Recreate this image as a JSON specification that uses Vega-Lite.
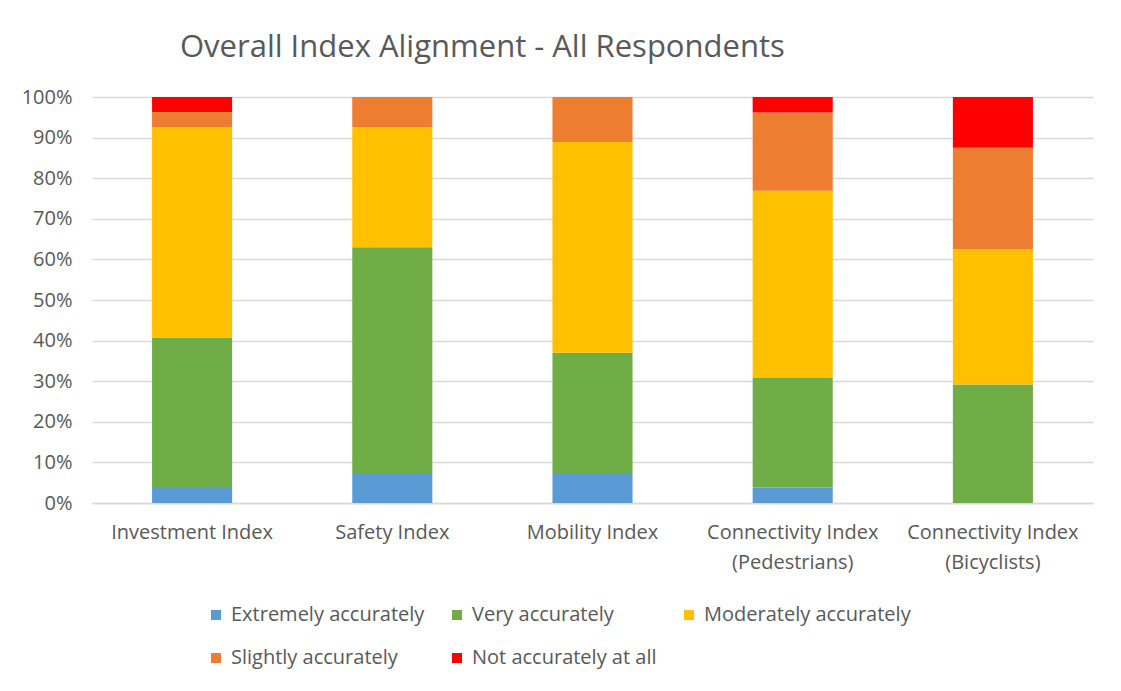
{
  "$schema": "https://vega.github.io/schema/vega-lite/v6.json",
  "width": 1001,
  "height": 406,
  "autosize": {"type": "none"},
  "padding": {"left": 92, "top": 97, "right": 28, "bottom": 188},
  "background": "white",
  "title": {
    "text": "Overall Index Alignment - All Respondents",
    "anchor": "start",
    "frame": "group",
    "dx": 88,
    "offset": 23,
    "font": "Open Sans",
    "fontSize": 31,
    "fontWeight": "normal",
    "color": "#595959"
  },
  "data": {
    "values": [
      {"index": "Investment Index", "rating": "Extremely accurately", "o": 1, "count": 1},
      {"index": "Investment Index", "rating": "Very accurately", "o": 2, "count": 10},
      {"index": "Investment Index", "rating": "Moderately accurately", "o": 3, "count": 14},
      {"index": "Investment Index", "rating": "Slightly accurately", "o": 4, "count": 1},
      {"index": "Investment Index", "rating": "Not accurately at all", "o": 5, "count": 1},
      {"index": "Safety Index", "rating": "Extremely accurately", "o": 1, "count": 2},
      {"index": "Safety Index", "rating": "Very accurately", "o": 2, "count": 15},
      {"index": "Safety Index", "rating": "Moderately accurately", "o": 3, "count": 8},
      {"index": "Safety Index", "rating": "Slightly accurately", "o": 4, "count": 2},
      {"index": "Safety Index", "rating": "Not accurately at all", "o": 5, "count": 0},
      {"index": "Mobility Index", "rating": "Extremely accurately", "o": 1, "count": 2},
      {"index": "Mobility Index", "rating": "Very accurately", "o": 2, "count": 8},
      {"index": "Mobility Index", "rating": "Moderately accurately", "o": 3, "count": 14},
      {"index": "Mobility Index", "rating": "Slightly accurately", "o": 4, "count": 3},
      {"index": "Mobility Index", "rating": "Not accurately at all", "o": 5, "count": 0},
      {"index": "Connectivity Index|(Pedestrians)", "rating": "Extremely accurately", "o": 1, "count": 1},
      {"index": "Connectivity Index|(Pedestrians)", "rating": "Very accurately", "o": 2, "count": 7},
      {"index": "Connectivity Index|(Pedestrians)", "rating": "Moderately accurately", "o": 3, "count": 12},
      {"index": "Connectivity Index|(Pedestrians)", "rating": "Slightly accurately", "o": 4, "count": 5},
      {"index": "Connectivity Index|(Pedestrians)", "rating": "Not accurately at all", "o": 5, "count": 1},
      {"index": "Connectivity Index|(Bicyclists)", "rating": "Extremely accurately", "o": 1, "count": 0},
      {"index": "Connectivity Index|(Bicyclists)", "rating": "Very accurately", "o": 2, "count": 7},
      {"index": "Connectivity Index|(Bicyclists)", "rating": "Moderately accurately", "o": 3, "count": 8},
      {"index": "Connectivity Index|(Bicyclists)", "rating": "Slightly accurately", "o": 4, "count": 6},
      {"index": "Connectivity Index|(Bicyclists)", "rating": "Not accurately at all", "o": 5, "count": 3}
    ]
  },
  "mark": {"type": "bar"},
  "encoding": {
    "x": {
      "field": "index",
      "type": "nominal",
      "sort": null,
      "scale": {"paddingInner": 0.6, "paddingOuter": 0.3},
      "axis": {
        "title": null,
        "labelAngle": 0,
        "labelExpr": "split(datum.value, '|')",
        "labelFont": "Open Sans",
        "labelFontSize": 20,
        "labelColor": "#595959",
        "labelPadding": 19,
        "labelLineHeight": 30,
        "labelLimit": 0,
        "ticks": false,
        "domainColor": "#d9d9d9",
        "domainWidth": 1.5
      }
    },
    "y": {
      "field": "count",
      "type": "quantitative",
      "aggregate": "sum",
      "stack": "normalize",
      "scale": {"domain": [0, 1]},
      "axis": {
        "title": null,
        "format": ".0%",
        "values": [0, 0.1, 0.2, 0.3, 0.4, 0.5, 0.6, 0.7, 0.8, 0.9, 1],
        "labelFont": "Open Sans",
        "labelFontSize": 20,
        "labelColor": "#595959",
        "labelPadding": 20,
        "ticks": false,
        "domain": false,
        "gridColor": "#d9d9d9",
        "gridWidth": 1.5
      }
    },
    "color": {
      "field": "rating",
      "type": "nominal",
      "sort": ["Extremely accurately", "Very accurately", "Moderately accurately", "Slightly accurately", "Not accurately at all"],
      "scale": {
        "domain": ["Extremely accurately", "Very accurately", "Moderately accurately", "Slightly accurately", "Not accurately at all"],
        "range": ["#5b9bd5", "#70ad47", "#ffc000", "#ed7d31", "#ff0000"]
      },
      "legend": {
        "title": null,
        "orient": "none",
        "legendX": 114,
        "legendY": 508,
        "direction": "horizontal",
        "columns": 3,
        "columnPadding": 22,
        "rowPadding": 23,
        "symbolType": "square",
        "symbolSize": 100,
        "symbolStrokeWidth": 0,
        "labelFont": "Open Sans",
        "labelFontSize": 20,
        "labelLimit": 0,
        "labelColor": "#595959",
        "labelOffset": 5
      }
    },
    "order": {"field": "o", "type": "quantitative", "sort": "ascending"}
  },
  "config": {
    "view": {"stroke": null}
  }
}
